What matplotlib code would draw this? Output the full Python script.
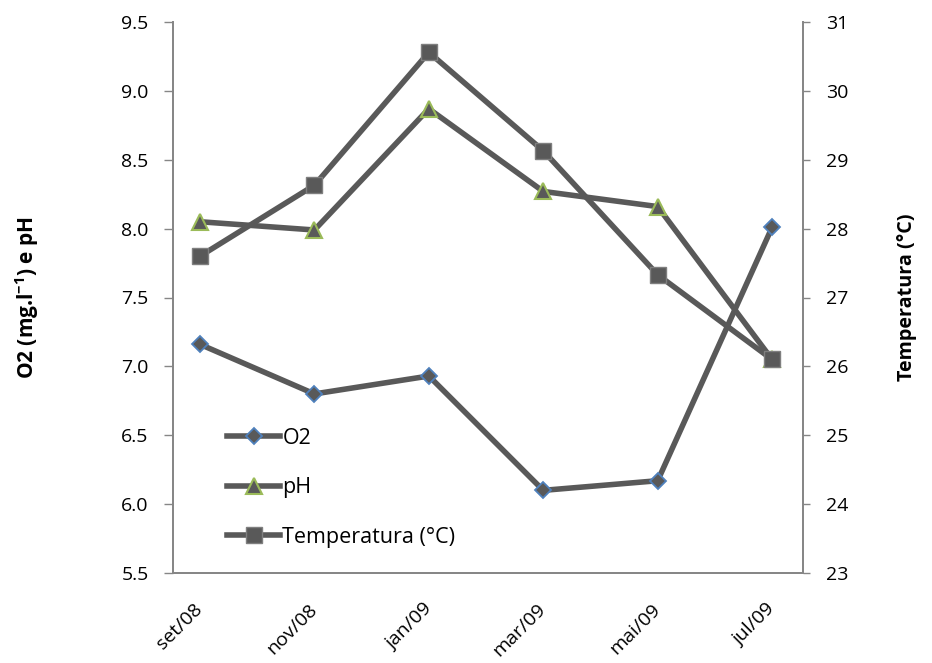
import matplotlib.pyplot as plt
from matplotlib.lines import Line2D

plt.rcParams['font.family'] = ['Open Sans', 'DejaVu Sans']
plt.rcParams['mathtext.fontset'] = 'custom'
plt.rcParams['mathtext.rm'] = 'Open Sans'
plt.rcParams['mathtext.bf'] = 'Open Sans:bold'

months = ['set/08', 'nov/08', 'jan/09', 'mar/09', 'mai/09', 'jul/09']
o2 = [7.16, 6.80, 6.93, 6.10, 6.17, 8.01]
ph = [8.05, 7.99, 8.87, 8.27, 8.16, 7.05]
temp = [27.6, 28.63, 30.56, 29.13, 27.33, 26.1]

line_col = '#595959'
spine_col = '#868686'

fig = plt.figure(figsize=(9.32, 6.63), dpi=100)
ax = fig.add_axes([173/932, 1-573/663, 630/932, 551/663])
ax2 = ax.twinx()

x = list(range(len(months)))
ax.plot(x, o2, color=line_col, lw=4, marker='D', ms=8, mfc=line_col, mec='#4F81BD', mew=1.3,
        solid_capstyle='round', zorder=3)
ax.plot(x, ph, color=line_col, lw=4, marker='^', ms=11, mfc=line_col, mec='#9BBB59', mew=1.5,
        solid_capstyle='round', zorder=3)
ax2.plot(x, temp, color=line_col, lw=4, marker='s', ms=12, mfc=line_col, mec='#7F7F7F', mew=1,
         solid_capstyle='round', zorder=3)

ax.set_xlim(-0.236, 5.27)
ax.set_ylim(5.5, 9.5)
ax.set_yticks([5.5 + 0.5*i for i in range(9)])
ax.set_yticklabels([f'{5.5 + 0.5*i:.1f}' for i in range(9)])
ax2.set_ylim(23, 31)
ax2.set_yticks(range(23, 32))

ax.set_xticks(x)
ax.set_xticklabels(months, rotation=45, ha='right', va='center', rotation_mode='anchor', fontsize=14)
ax.tick_params(axis='x', length=0, pad=24)

for a in (ax, ax2):
    a.spines['top'].set_visible(False)
    for s in ('left', 'right', 'bottom'):
        a.spines[s].set_color(spine_col)
        a.spines[s].set_linewidth(1.3)
    a.tick_params(axis='y', colors=spine_col, labelcolor='black', labelsize=14, width=1)
ax.tick_params(axis='y', pad=11, length=6.5)
ax2.tick_params(axis='y', pad=11.5, length=5)

ax.set_ylabel('O2 (mg.l$^{\\mathbf{-1}}$) e pH', fontsize=15, fontweight='bold', labelpad=58)
ax2.set_ylabel('Temperatura (°C)', fontsize=14.2, fontweight='bold', labelpad=35)

handles = [
    Line2D([], [], color=line_col, lw=4, marker='D', ms=8, mfc=line_col, mec='#4F81BD', mew=1.3),
    Line2D([], [], color=line_col, lw=4, marker='^', ms=11, mfc=line_col, mec='#9BBB59', mew=1.5),
    Line2D([], [], color=line_col, lw=4, marker='s', ms=12, mfc=line_col, mec='#7F7F7F', mew=1),
]
ax.legend(handles, ['O2', 'pH', 'Temperatura (°C)'], loc='upper left',
          bbox_to_anchor=(0.055, 0.2986), frameon=False, fontsize=15.5,
          handlelength=2.47, handletextpad=0.1, labelspacing=1.32)

fig.savefig('out.png', dpi=100)
